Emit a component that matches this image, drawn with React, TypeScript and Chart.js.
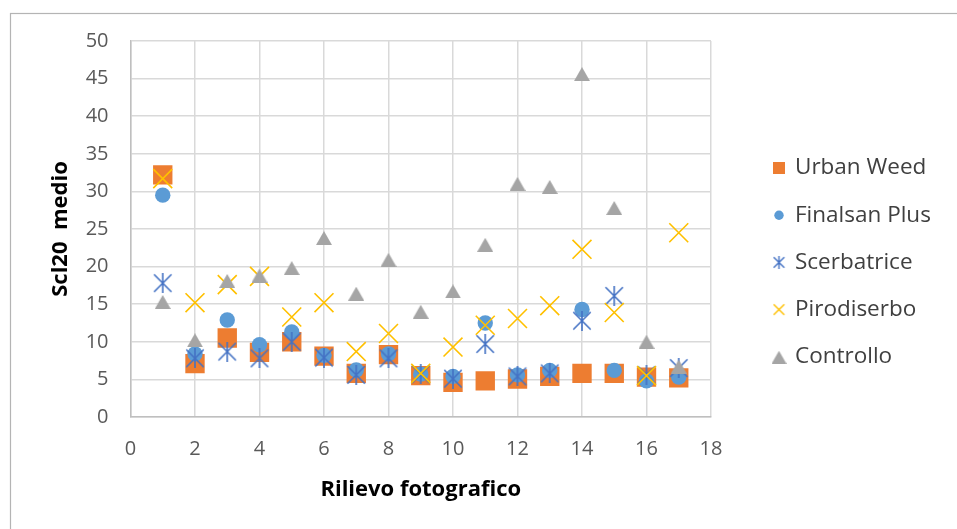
import React, { useEffect, useRef } from 'react';
import { Chart, registerables } from 'chart.js';

Chart.register(...registerables);

const rilievi = [1, 2, 3, 4, 5, 6, 7, 8, 9, 10, 11, 12, 13, 14, 15, 16, 17];
const urbanWeed = [32.2, 7.1, 10.5, 8.6, 10.0, 8.1, 5.8, 8.3, 5.5, 4.6, 4.8, 5.05, 5.4, 5.8, 5.8, 5.3, 5.2];
const finalsanPlus = [29.5, 8.4, 12.9, 9.6, 11.3, 8.2, 6.25, 8.4, 5.7, 5.4, 12.5, 5.6, 6.2, 14.3, 6.2, 4.8, 5.3];
const scerbatrice = [17.8, 7.8, 8.7, 7.8, 10.0, 7.9, 5.6, 7.8, 5.7, 5.1, 9.7, 5.4, 5.8, 12.8, 16.1, 5.6, 6.5];
const pirodiserbo = [31.7, 15.2, 17.6, 18.7, 13.3, 15.2, 8.7, 11.1, 5.8, 9.3, 12.2, 13.1, 14.8, 22.3, 13.9, 5.5, 24.5];
const controllo = [15.3, 10.2, 18.1, 18.8, 19.8, 23.8, 16.4, 20.9, 14.0, 16.7, 22.9, 31.0, 30.6, 45.6, 27.8, 10.0, 6.7];

const seriesNames = ['Urban Weed', 'Finalsan Plus', 'Scerbatrice', 'Pirodiserbo', 'Controllo'];
const seriesColors = ['#ED7D31', '#5B9BD5', '#4472C4', '#FFC000', '#A5A5A5'];

const xTitle = 'Rilievo fotografico';
const yTitle = 'Scl20  medio';

const FONT = "'Open Sans', 'DejaVu Sans', sans-serif";

function makeStar(size: number, lw: number, color: string) {
  const c = document.createElement('canvas');
  c.width = size;
  c.height = size;
  const ctx = c.getContext('2d')!;
  ctx.strokeStyle = color;
  ctx.lineWidth = lw;
  const m = lw / 2 + 0.5;
  ctx.beginPath();
  ctx.moveTo(m, m);
  ctx.lineTo(size - m, size - m);
  ctx.moveTo(size - m, m);
  ctx.lineTo(m, size - m);
  ctx.moveTo(size / 2, 0);
  ctx.lineTo(size / 2, size);
  ctx.stroke();
  return c;
}

function makeTriangle(w: number, h: number, color: string) {
  const c = document.createElement('canvas');
  c.width = w;
  c.height = h;
  const ctx = c.getContext('2d')!;
  ctx.fillStyle = color;
  ctx.beginPath();
  ctx.moveTo(w / 2, 0);
  ctx.lineTo(w, h);
  ctx.lineTo(0, h);
  ctx.closePath();
  ctx.fill();
  return c;
}

function makeX(size: number, lw: number, color: string) {
  const c = document.createElement('canvas');
  c.width = size;
  c.height = size;
  const ctx = c.getContext('2d')!;
  ctx.strokeStyle = color;
  ctx.lineWidth = lw;
  const m = lw / 2 + 0.5;
  ctx.beginPath();
  ctx.moveTo(m, m);
  ctx.lineTo(size - m, size - m);
  ctx.moveTo(size - m, m);
  ctx.lineTo(m, size - m);
  ctx.stroke();
  return c;
}

export default function App() {
  const ref = useRef<HTMLCanvasElement | null>(null);

  useEffect(() => {
    document.body.style.margin = '0';
    const canvas = ref.current!;

    const starBig = makeStar(20, 1.6, seriesColors[2]);
    const triBig = makeTriangle(16, 14, seriesColors[4]);

    const legendMarkers = [
      (ctx: CanvasRenderingContext2D, x: number, y: number) => {
        ctx.fillStyle = seriesColors[0];
        ctx.fillRect(x - 6, y - 6, 12, 12);
      },
      (ctx: CanvasRenderingContext2D, x: number, y: number) => {
        ctx.fillStyle = seriesColors[1];
        ctx.beginPath();
        ctx.arc(x, y, 4.7, 0, Math.PI * 2);
        ctx.fill();
      },
      (ctx: CanvasRenderingContext2D, x: number, y: number) => {
        const s = makeStar(13, 1.4, seriesColors[2]);
        ctx.drawImage(s, x - 6.5, y - 6.5);
      },
      (ctx: CanvasRenderingContext2D, x: number, y: number) => {
        const s = makeX(13, 1.4, seriesColors[3]);
        ctx.drawImage(s, x - 6.5, y - 6.5);
      },
      (ctx: CanvasRenderingContext2D, x: number, y: number) => {
        const s = makeTriangle(15, 13, seriesColors[4]);
        ctx.drawImage(s, x - 7.5, y - 6);
      },
    ];

    const framePlugin = {
      id: 'frameAndLegend',
      beforeDraw(chart: any) {
        const ctx = chart.ctx;
        ctx.save();
        ctx.fillStyle = '#ffffff';
        ctx.fillRect(0, 0, chart.width, chart.height);
        ctx.strokeStyle = '#B4B4B4';
        ctx.lineWidth = 1.2;
        ctx.strokeRect(10.5, 13.5, chart.width + 20, chart.height + 20);
        ctx.restore();
      },
      afterDraw(chart: any) {
        const ctx = chart.ctx;
        ctx.save();
        ctx.font = `22.5px ${FONT}`;
        ctx.textBaseline = 'middle';
        ctx.textAlign = 'left';
        chart.data.datasets.forEach((ds: any, i: number) => {
          const y = 168 + i * 47.2;
          legendMarkers[i](ctx, 779, y);
          ctx.fillStyle = '#404040';
          ctx.fillText(ds.label, 795, y);
        });
        ctx.restore();
      },
    };

    const toPts = (vals: number[]) => vals.map((v, i) => ({ x: rilievi[i], y: v }));

    const chart = new Chart(canvas, {
      type: 'scatter',
      data: {
        datasets: [
          {
            label: seriesNames[0],
            data: toPts(urbanWeed),
            pointStyle: 'rect',
            pointRadius: 13.7,
            pointHoverRadius: 13.7,
            backgroundColor: seriesColors[0],
            borderColor: seriesColors[0],
            borderWidth: 0,
            order: 5,
          },
          {
            label: seriesNames[1],
            data: toPts(finalsanPlus),
            pointStyle: 'circle',
            pointRadius: 7.7,
            pointHoverRadius: 7.7,
            backgroundColor: seriesColors[1],
            borderColor: seriesColors[1],
            borderWidth: 0,
            order: 4,
          },
          {
            label: seriesNames[2],
            data: toPts(scerbatrice),
            pointStyle: starBig,
            pointRadius: 10,
            backgroundColor: seriesColors[2],
            borderColor: seriesColors[2],
            order: 3,
          },
          {
            label: seriesNames[3],
            data: toPts(pirodiserbo),
            pointStyle: 'crossRot',
            pointRadius: 13.4,
            pointHoverRadius: 13.4,
            backgroundColor: seriesColors[3],
            borderColor: seriesColors[3],
            borderWidth: 1.6,
            order: 2,
          },
          {
            label: seriesNames[4],
            data: toPts(controllo),
            pointStyle: triBig,
            pointRadius: 8,
            backgroundColor: seriesColors[4],
            borderColor: seriesColors[4],
            order: 1,
          },
        ],
      },
      options: {
        responsive: false,
        animation: false,
        devicePixelRatio: 1,
        layout: { padding: { left: 0, top: 41, right: 246, bottom: 0 } },
        plugins: {
          legend: { display: false },
          tooltip: { enabled: false },
        },
        scales: {
          x: {
            type: 'linear',
            min: 0,
            max: 18,
            afterFit: (s: any) => {
              s.height = 112;
            },
            ticks: {
              stepSize: 2,
              color: '#595959',
              font: { family: FONT, size: 20 },
              padding: 20,
            },
            grid: { color: '#D9D9D9', lineWidth: 1.5, drawTicks: false },
            border: { color: '#BFBFBF', width: 1.5 },
            title: {
              display: true,
              text: xTitle,
              color: '#000000',
              font: { family: FONT, size: 22, weight: 'bold' },
              padding: { top: 0, bottom: 26 },
            },
          },
          y: {
            type: 'linear',
            min: 0,
            max: 50,
            afterFit: (s: any) => {
              s.width = 130.5;
            },
            ticks: {
              stepSize: 5,
              color: '#595959',
              font: { family: FONT, size: 20 },
              padding: 22,
            },
            grid: { color: '#D9D9D9', lineWidth: 1.5, drawTicks: false },
            border: { color: '#BFBFBF', width: 1.5 },
            title: {
              display: true,
              text: yTitle,
              color: '#000000',
              font: { family: FONT, size: 22, weight: 'bold' },
              padding: { top: 48, bottom: 0 },
            },
          },
        },
      },
      plugins: [framePlugin],
    } as any);

    return () => {
      chart.destroy();
    };
  }, []);

  return (
    <div style={{ width: 957, height: 529, overflow: 'hidden' }}>
      <canvas ref={ref} width={957} height={529} style={{ display: 'block' }} />
    </div>
  );
}
